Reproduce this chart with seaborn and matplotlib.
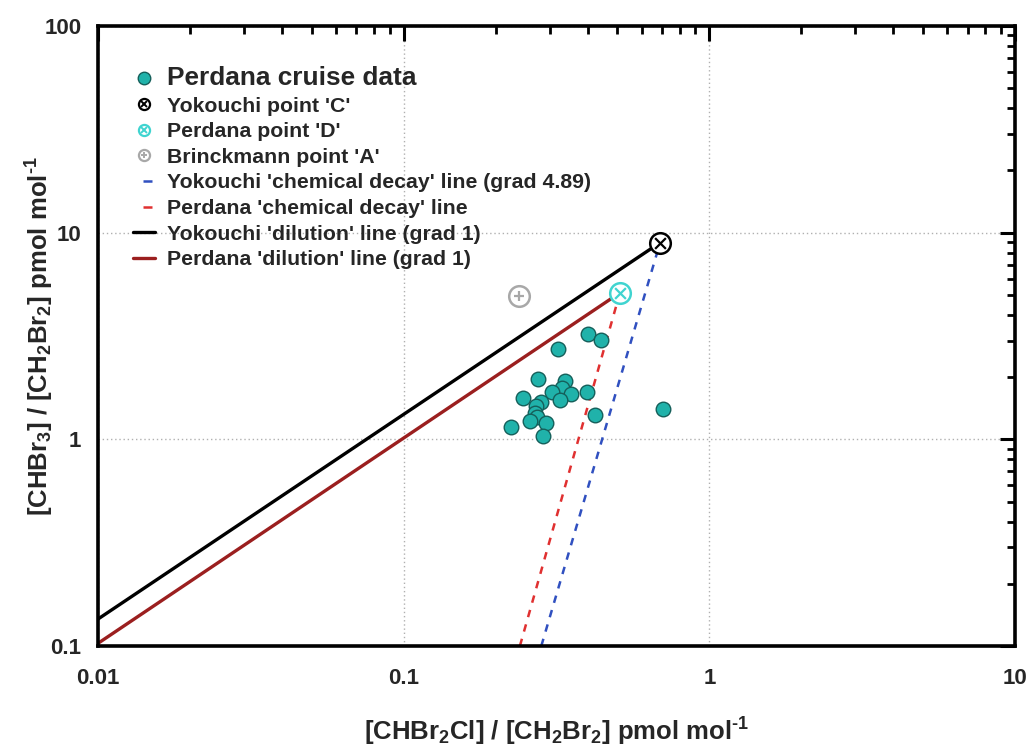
import numpy as np
import pandas as pd
import matplotlib
matplotlib.use("Agg")
import matplotlib.pyplot as plt
import seaborn as sns
from matplotlib.lines import Line2D
from matplotlib.ticker import LogLocator, NullFormatter

# Perdana cruise observations (CHBr2Cl/CH2Br2 vs CHBr3/CH2Br2)
cruise_x = [0.400, 0.443, 0.321, 0.275, 0.337, 0.329, 0.305, 0.353, 0.399, 0.325, 0.245,
            0.281, 0.271, 0.269, 0.273, 0.259, 0.292, 0.224, 0.285, 0.423, 0.707]
cruise_y = [3.22, 3.01, 2.73, 1.96, 1.92, 1.77, 1.69, 1.66, 1.69, 1.55, 1.58,
            1.52, 1.45, 1.34, 1.28, 1.22, 1.20, 1.15, 1.04, 1.31, 1.40]

# reference points
yok_c = (0.69, 8.95)
per_d = (0.51, 5.12)
bri_a = (0.239, 4.93)

# line end points
yok_dil_x, yok_dil_y = [0.01, 0.69], [0.135, 8.95]
per_dil_x, per_dil_y = [0.01, 0.51], [0.103, 5.12]
yok_dec_x, yok_dec_y = [0.282, 0.69], [0.1, 8.95]
per_dec_x, per_dec_y = [0.24, 0.51], [0.1, 5.12]

x_ticks = [0.01, 0.1, 1, 10]
x_tick_labels = ["0.01", "0.1", "1", "10"]
y_ticks = [0.1, 1, 10, 100]
y_tick_labels = ["0.1", "1", "10", "100"]

sns.set_theme(style="white")
plt.rcParams['font.family'] = ['Liberation Sans', 'DejaVu Sans']
plt.rcParams['mathtext.fontset'] = 'custom'
plt.rcParams['mathtext.rm'] = 'Liberation Sans:bold'
plt.rcParams['mathtext.bf'] = 'Liberation Sans:bold'
plt.rcParams['mathtext.it'] = 'Liberation Sans:bold'
plt.rcParams['mathtext.default'] = 'bf'

TEAL = '#20b2aa'
TEAL_EDGE = '#155f5a'
TURQ = '#40d4d0'
GREY = '#a8a8a8'
BLUE = '#3050c0'
RED = '#e03030'
DARKRED = '#9b1f1f'

fig = plt.figure(figsize=(10.31, 7.53), dpi=100)
ax = fig.add_axes([98 / 1031, 1 - 646 / 753, 917 / 1031, 620 / 753])
ax.set_xscale('log')
ax.set_yscale('log')

lines = [
    (yok_dil_x, yok_dil_y, 'black', '-', 2.4),
    (per_dil_x, per_dil_y, DARKRED, '-', 2.4),
    (yok_dec_x, yok_dec_y, BLUE, '--', 1.8),
    (per_dec_x, per_dec_y, RED, '--', 1.8),
]
for lx, ly, col, ls, lw in lines:
    sns.lineplot(x=lx, y=ly, ax=ax, color=col, linestyle=ls, linewidth=lw,
                 legend=False, zorder=2)
for l in ax.lines:
    if l.get_linestyle() == '--':
        l.set_dashes((3, 3))

df = pd.DataFrame({'x': cruise_x, 'y': cruise_y})
sns.scatterplot(data=df, x='x', y='y', ax=ax, s=110, color=TEAL,
                edgecolor=TEAL_EDGE, linewidth=1.0, legend=False, zorder=4)

for (px, py), col, inner in [(yok_c, 'black', 'x'), (per_d, TURQ, 'x'), (bri_a, GREY, '+')]:
    ax.scatter([px], [py], s=220, facecolor='white', edgecolor=col, linewidth=1.8, zorder=5)
    ax.scatter([px], [py], s=60, marker=inner, color=col, linewidth=1.6, zorder=6)

ax.set_xlim(0.01, 10)
ax.set_ylim(0.1, 100)
ax.set_xticks(x_ticks)
ax.set_xticklabels(x_tick_labels)
ax.set_yticks(y_ticks)
ax.set_yticklabels(y_tick_labels)
ax.xaxis.set_minor_locator(LogLocator(base=10, subs=np.arange(2, 10)))
ax.yaxis.set_minor_locator(LogLocator(base=10, subs=np.arange(2, 10)))
ax.xaxis.set_minor_formatter(NullFormatter())
ax.yaxis.set_minor_formatter(NullFormatter())

ax.tick_params(which='both', direction='in', top=True, right=True, color='black')
ax.tick_params(which='major', length=11, width=2.2)
ax.tick_params(which='minor', length=5.5, width=2.0)
ax.tick_params(axis='x', which='major', pad=16)
ax.tick_params(axis='y', which='major', pad=12)
for lab in ax.get_xticklabels() + ax.get_yticklabels():
    lab.set_fontsize(16)
    lab.set_fontweight('bold')

for sp in ax.spines.values():
    sp.set_linewidth(2.6)
    sp.set_color('black')

ax.grid(True, which='major', color='#b0b0b0', linestyle=(0, (1, 2)), linewidth=1.0)
ax.set_axisbelow(True)

ax.set_xlabel(r'[CHBr$_2$Cl] / [CH$_2$Br$_2$] pmol mol$^{\text{-1}}$', fontsize=18.5,
              fontweight='bold')
ax.xaxis.set_label_coords(0.5, -(716 - 646) / 620)
ax.set_ylabel(r'[CHBr$_3$] / [CH$_2$Br$_2$] pmol mol$^{\text{-1}}$', fontsize=18.5,
              fontweight='bold')
ax.yaxis.set_label_coords(-(98 - 56) / 917, 0.5)

def ring(col, inner):
    return (Line2D([], [], marker='o', ls='', ms=8, mfc='white', mec=col, mew=1.6),
            Line2D([], [], marker=inner, ls='', ms=4.5, color=col, mew=1.4))

# one short dash in the middle of the handle, like the reference key
short_dash = (29.6, (3.6, 30))

handles = [
    Line2D([], [], marker='o', ls='', ms=9, mfc=TEAL, mec=TEAL_EDGE, mew=1.0),
    ring('black', 'x'),
    ring(TURQ, 'x'),
    ring(GREY, '+'),
    Line2D([], [], color=BLUE, ls=short_dash, lw=1.8),
    Line2D([], [], color=RED, ls=short_dash, lw=1.8),
    Line2D([], [], color='black', ls='-', lw=2.4),
    Line2D([], [], color=DARKRED, ls='-', lw=2.4),
]
labels = [
    "Perdana cruise data",
    "Yokouchi point 'C'",
    "Perdana point 'D'",
    "Brinckmann point 'A'",
    "Yokouchi 'chemical decay' line (grad 4.89)",
    "Perdana 'chemical decay' line",
    "Yokouchi 'dilution' line (grad 1)",
    "Perdana 'dilution' line (grad 1)",
]
leg = ax.legend(handles, labels, loc='upper left',
                bbox_to_anchor=(133 / 1031, 1 - 66 / 753), bbox_transform=fig.transFigure,
                frameon=False, borderpad=0, borderaxespad=0, handlelength=1.05,
                handletextpad=0.55, labelspacing=0.31,
                prop={'weight': 'bold', 'size': 15.3})
leg.get_texts()[0].set_fontsize(18.9)

fig.savefig('out.png', dpi=100)
